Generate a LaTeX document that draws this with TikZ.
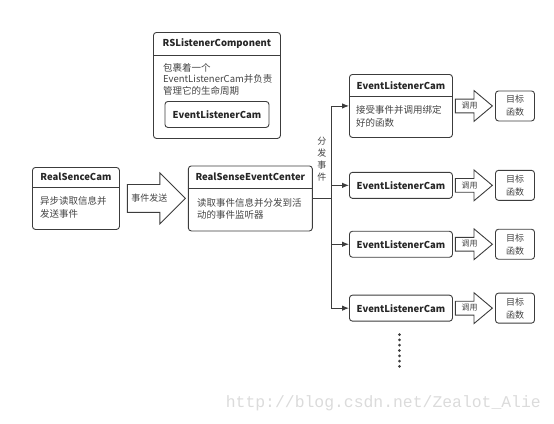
\documentclass[tikz,border=0pt]{standalone}
\usepackage{fontspec}
\setmainfont{Noto Sans CJK SC}
\newfontfamily\wmfont{Liberation Mono}
\usetikzlibrary{positioning,calc,shapes.arrows,arrows.meta}
\definecolor{linegray}{HTML}{3C3C3C}
\definecolor{textgray}{HTML}{444444}
\tikzset{
  card/.style={rectangle, rounded corners=3pt, draw=linegray, line width=0.9pt, inner sep=0pt, anchor=north west},
  head/.style={inner sep=0pt, font=\bfseries\fontsize{9.5}{11}\selectfont, text=black!85},
  body/.style={inner xsep=0pt, inner ysep=9pt, align=left, anchor=north west, font=\fontsize{9.5}{12.5}\selectfont, text=textgray},
  ec/.style={rectangle, rounded corners=3pt, draw=linegray, line width=0.9pt, minimum width=103pt, minimum height=26pt, inner sep=0pt, font=\bfseries\fontsize{9.5}{11}\selectfont, text=black!85},
  goal/.style={rectangle, rounded corners=3pt, draw=linegray, line width=0.9pt, minimum width=39pt, minimum height=30pt, inner sep=0pt, align=center, font=\fontsize{9}{13}\selectfont, text=textgray},
  fat/.style={single arrow, draw=linegray, line width=0.9pt, single arrow head extend=11.5pt, single arrow tip angle=90, inner xsep=0pt, inner ysep=9.25pt, text height=7pt, text depth=1.5pt, minimum height=58pt, font=\fontsize{9}{10}\selectfont, text=textgray},
  call/.style={single arrow, draw=linegray, line width=0.9pt, single arrow head extend=8.5pt, single arrow tip angle=80, inner xsep=0pt, inner ysep=2.6pt, text height=6.5pt, text depth=1.2pt, minimum height=37pt, font=\fontsize{8}{9}\selectfont, text=textgray},
  wire/.style={->, draw=linegray, line width=0.9pt},
  vtext/.style={align=center, inner sep=0pt, font=\fontsize{9}{12}\selectfont, text=textgray},
  dots/.style={draw=linegray, line width=3pt, line cap=round, dash pattern=on 0pt off 5.3pt},
  wm/.style={inner sep=0pt, font=\wmfont\fontsize{16.4}{18}\selectfont, text=black!14},
  node distance=7pt
}
\begin{document}
\begin{tikzpicture}[x=1pt, y=-1pt, >={Latex[length=7pt,width=5.5pt]}]
	\useasboundingbox (0,0) rectangle (554,423);
	% source camera
	\node[card, minimum width=87pt, minimum height=62pt] (cam) at (32,167) {};
	\node[head, minimum height=20pt, below=0pt of cam.north] (camhead) {RealSenceCam};
	\draw[linegray, line width=0.9pt] (camhead.south -| cam.west) -- (camhead.south -| cam.east);
	\node[body] (camtext) at ($(camhead.south -| cam.west)+(8,0)$) {异步读取信息并\\发送事件};
	%
	\node[fat, right=7pt of cam] (send) {事件发送};
	%
	\node[card, minimum width=124pt, minimum height=65pt, right=68pt of cam] (center) {};
	\node[head, minimum height=23pt, below=0pt of center.north] (centerhead) {RealSenseEventCenter};
	\draw[linegray, line width=0.9pt] (centerhead.south -| center.west) -- (centerhead.south -| center.east);
	\node[body] (centertext) at ($(centerhead.south -| center.west)+(9,0)$) {读取事件信息并分发到活\\动的事件监听器};
	%
	\node[card, minimum width=127pt, minimum height=106pt] (comp) at (153,32) {};
	\node[head, minimum height=23pt, below=0pt of comp.north] (comphead) {RSListenerComponent};
	\draw[linegray, line width=0.9pt] (comphead.south -| comp.west) -- (comphead.south -| comp.east);
	\node[body, inner ysep=7.5pt, font=\fontsize{9.5}{11.5}\selectfont] (comptext) at ($(comphead.south -| comp.west)+(10,0)$) {包裹着一个\\EventListenerCam并负责\\管理它的生命周期};
	\node[ec, minimum width=104pt, anchor=south] (inner) at ([yshift=11pt]comp.south) {EventListenerCam};
	%
	\node[card, minimum width=103pt, minimum height=63pt] (l1) at (349,74) {};
	\node[head, minimum height=22pt, below=0pt of l1.north] (l1head) {EventListenerCam};
	\draw[linegray, line width=0.9pt] (l1head.south -| l1.west) -- (l1head.south -| l1.east);
	\node[body] (l1text) at ($(l1head.south -| l1.west)+(7,0)$) {接受事件并调用绑定\\好的函数};
	\node[ec, below=34pt of l1] (l2) {EventListenerCam};
	\node[ec, below=32pt of l2] (l3) {EventListenerCam};
	\node[ec, below=37pt of l3] (l4) {EventListenerCam};
	%
	\node[call, right=2pt of l1] (call1) {调用};
	\node[goal, right=2pt of call1] (goal1) {目标\\函数};
	\node[call, right=2pt of l2] (call2) {调用};
	\node[goal, right=2pt of call2] (goal2) {目标\\函数};
	\node[call, right=2pt of l3] (call3) {调用};
	\node[goal, right=2pt of call3] (goal3) {目标\\函数};
	\node[call, right=2pt of l4] (call4) {调用};
	\node[goal, right=2pt of call4] (goal4) {目标\\函数};
	%
	\draw[wire] (center.east) -- ++(19,0) coordinate (fork) |- (l1.west);
	\draw[wire] (fork) |- (l2.west);
	\draw[wire] (fork) |- (l3.west);
	\draw[wire] (fork) |- (l4.west);
	\node[vtext] (split) at ($(fork)+(-10,-39)$) {分\\发\\事\\件};
	%
	\coordinate[below=13pt of l4] (more);
	\draw[dots] ($(more)+(-1.5,0)$) -- ++(0,32);
	%
	\node[wm, anchor=east] (mark) at (541,403) {http://blog.csdn.net/Zealot\_Alie};
\end{tikzpicture}
\end{document}
